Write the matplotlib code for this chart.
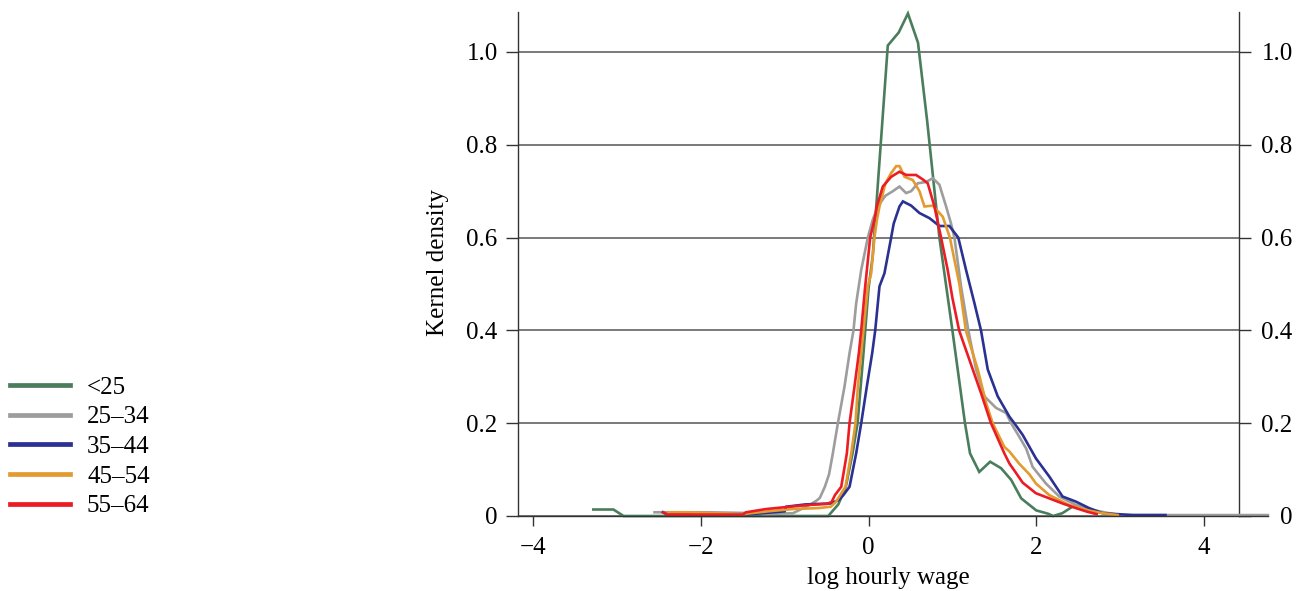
import matplotlib
matplotlib.use("Agg")
import matplotlib.pyplot as plt
from matplotlib.lines import Line2D

plt.rcParams['font.family'] = ['Liberation Serif', 'DejaVu Serif']
plt.rcParams['axes.unicode_minus'] = True

# ---------------- data ----------------
labels = ["<25", "25\u201334", "35\u201344", "45\u201354", "55\u201364"]
colors = ["#4a7d5c", "#9d9d9d", "#2b3192", "#e39b2f", "#ec1c24"]

x_lt25 = [-3.28, -3.04, -2.92, -0.48, -0.36, -0.27, -0.19, -0.13, -0.06, 0.00, 0.05,
          0.23, 0.36, 0.47, 0.59, 0.70, 0.845, 1.00, 1.15, 1.21, 1.32, 1.45, 1.58,
          1.70, 1.82, 2.00, 2.14, 2.20, 2.31, 2.43, 2.50]
y_lt25 = [0.014, 0.014, 0.0, 0.0, 0.025, 0.063, 0.135, 0.20, 0.351, 0.49, 0.56,
          1.014, 1.042, 1.083, 1.02, 0.85, 0.60, 0.40, 0.20, 0.135, 0.095, 0.117, 0.103,
          0.078, 0.038, 0.012, 0.005, 0.0, 0.006, 0.02, 0.02]

x_25_34 = [-2.55, -2.40, -1.90, -1.30, -1.25, -0.90, -0.80, -0.70, -0.62, -0.58, -0.52,
           -0.47, -0.425, -0.365, -0.286, -0.226, -0.179, -0.147, -0.087, -0.008, 0.05,
           0.111, 0.20, 0.29, 0.369, 0.448, 0.508, 0.587, 0.687, 0.766, 0.845, 0.925,
           0.984, 1.024, 1.103, 1.19, 1.282, 1.381, 1.52, 1.64, 1.70, 1.80, 1.88, 1.956,
           2.115, 2.274, 2.472, 2.67, 2.87, 2.99, 4.76]
y_25_34 = [0.008, 0.008, 0.008, 0.006, 0.004, 0.006, 0.015, 0.024, 0.033, 0.039, 0.063,
           0.09, 0.135, 0.20, 0.279, 0.351, 0.40, 0.458, 0.530, 0.60, 0.638,
           0.667, 0.69, 0.70, 0.710, 0.696, 0.70, 0.717, 0.720, 0.728, 0.714, 0.667,
           0.630, 0.60, 0.495, 0.40, 0.316, 0.258, 0.233, 0.222, 0.20, 0.17, 0.145, 0.106,
           0.070, 0.042, 0.024, 0.013, 0.006, 0.002, 0.002]

x_35_44 = [-2.45, -2.40, -1.40, -1.00, -0.98, -0.75, -0.45, -0.35, -0.30, -0.226, -0.147,
           -0.087, -0.02, 0.044, 0.08, 0.131, 0.19, 0.27, 0.30, 0.369, 0.41, 0.508, 0.607,
           0.726, 0.845, 0.964, 1.07, 1.163, 1.262, 1.341, 1.421, 1.54, 1.68, 1.738, 1.837,
           1.996, 2.155, 2.313, 2.472, 2.63, 2.79, 3.15, 3.54]
y_35_44 = [0.008, 0.003, 0.004, 0.010, 0.020, 0.025, 0.027, 0.035, 0.045, 0.063, 0.135,
           0.20, 0.279, 0.351, 0.40, 0.495, 0.523, 0.60, 0.63, 0.667, 0.678, 0.669, 0.653,
           0.642, 0.625, 0.625, 0.60, 0.53, 0.459, 0.40, 0.316, 0.258, 0.214, 0.20, 0.175,
           0.124, 0.085, 0.042, 0.031, 0.017, 0.006, 0.002, 0.002]

x_45_54 = [-2.38, -2.20, -1.50, -1.20, -0.90, -0.60, -0.45, -0.39, -0.274, -0.206, -0.155,
           -0.127, -0.087, -0.06, -0.008, 0.032, 0.071, 0.10, 0.131, 0.202, 0.27, 0.33,
           0.37, 0.43, 0.528, 0.607, 0.667, 0.766, 0.885, 0.97, 1.083, 1.16, 1.302, 1.401,
           1.48, 1.619, 1.68, 1.80, 1.917, 1.996, 2.155, 2.39, 2.59, 2.79, 2.97]
y_45_54 = [0.008, 0.008, 0.004, 0.010, 0.015, 0.017, 0.020, 0.030, 0.063, 0.135, 0.20,
           0.279, 0.351, 0.40, 0.495, 0.523, 0.60, 0.638, 0.667, 0.717, 0.739, 0.754,
           0.754, 0.731, 0.724, 0.70, 0.667, 0.669, 0.645, 0.60, 0.50, 0.40, 0.316, 0.244,
           0.20, 0.149, 0.139, 0.112, 0.090, 0.070, 0.045, 0.024, 0.013, 0.006, 0.002]

x_55_64 = [-2.45, -2.40, -1.50, -1.46, -1.22, -0.94, -0.70, -0.50, -0.44, -0.40, -0.325,
           -0.258, -0.226, -0.167, -0.115, -0.087, -0.042, 0.02, 0.07, 0.10, 0.17, 0.27,
           0.369, 0.45, 0.567, 0.65, 0.706, 0.786, 0.865, 0.944, 1.00, 1.08, 1.202, 1.341,
           1.46, 1.619, 1.68, 1.75, 1.837, 1.996, 2.155, 2.313, 2.472, 2.61, 2.72]
y_55_64 = [0.008, 0.003, 0.003, 0.008, 0.015, 0.020, 0.024, 0.026, 0.030, 0.045, 0.063,
           0.135, 0.20, 0.279, 0.351, 0.40, 0.49, 0.60, 0.638, 0.667, 0.710, 0.731,
           0.742, 0.735, 0.735, 0.725, 0.717, 0.667, 0.60, 0.53, 0.47, 0.40, 0.337, 0.265,
           0.20, 0.135, 0.113, 0.095, 0.072, 0.049, 0.038, 0.027, 0.017, 0.009, 0.004]

series_x = [x_lt25, x_25_34, x_35_44, x_45_54, x_55_64]
series_y = [y_lt25, y_25_34, y_35_44, y_45_54, y_55_64]

y_ticks = [0, 0.2, 0.4, 0.6, 0.8, 1.0]
y_ticklabels = ["0", "0.2", "0.4", "0.6", "0.8", "1.0"]
x_ticks = [-4, -2, 0, 2, 4]

# ---------------- layout ----------------
W, H = 1298, 591
fig = plt.figure(figsize=(W / 100, H / 100), dpi=100)
FS = 18

px0 = 868.5      # pixel of x = 0
ppu = 83.9       # pixels per unit
def v(px):
    return (px - px0) / ppu

left_px, right_grid_px, right_data_px = 518, 1239, 1268
top_px, bot_px = 12, 516
ytop = (bot_px - top_px) / 464.0

L = left_px / W
B = (H - bot_px) / H
HH = (bot_px - top_px) / H

# grid / y-axis frame
ax_g = fig.add_axes([L, B, (right_grid_px - left_px) / W, HH])
ax_g.set_xlim(v(left_px), v(right_grid_px))
ax_g.set_ylim(0, ytop)
for s in ["top", "bottom", "right"]:
    ax_g.spines[s].set_visible(False)
ax_g.spines["left"].set_color("#333333")
ax_g.spines["left"].set_linewidth(1.0)
ax_g.set_xticks([])
ax_g.set_yticks(y_ticks)
ax_g.set_yticklabels(y_ticklabels)
ax_g.tick_params(axis="y", direction="out", length=8.6, width=1.0, color="#333333",
                 labelsize=FS, pad=6.0)
ax_g.yaxis.grid(True, color="#555555", linewidth=1.1)
ax_g.set_axisbelow(True)
ax_g.set_ylabel("Kernel density", fontsize=FS)
ax_g.yaxis.set_label_coords((438 - left_px) / (right_grid_px - left_px),
                            (bot_px - 262) / (bot_px - top_px))
ax_g.yaxis.label.set_va("center")

# right axis
ax_r = ax_g.twinx()
ax_r.set_ylim(0, ytop)
for s in ["top", "bottom", "left"]:
    ax_r.spines[s].set_visible(False)
ax_r.spines["right"].set_color("#333333")
ax_r.spines["right"].set_linewidth(1.0)
ax_r.set_yticks(y_ticks)
ax_r.set_yticklabels(y_ticklabels)
ax_r.tick_params(axis="y", direction="out", length=8.6, width=1.0, color="#333333",
                 labelsize=FS, pad=30.0)
for t in ax_r.get_yticklabels():
    t.set_horizontalalignment("right")

# data axes
ax = fig.add_axes([L, B, (right_data_px - left_px) / W, HH])
ax.patch.set_visible(False)
ax.set_xlim(v(left_px), v(right_data_px))
ax.set_ylim(0, ytop)
for s in ["top", "left", "right"]:
    ax.spines[s].set_visible(False)
ax.spines["bottom"].set_color("#333333")
ax.spines["bottom"].set_linewidth(1.0)
ax.set_yticks([])
ax.set_xticks(x_ticks)
ax.tick_params(axis="x", direction="out", length=7.2, width=1.0, color="#333333",
               labelsize=FS, pad=8.0)
ax.set_xlabel("log hourly wage", fontsize=FS)
ax.xaxis.set_label_coords((888 - left_px) / (right_data_px - left_px),
                          (bot_px - 578) / (bot_px - top_px))
ax.xaxis.label.set_va("center")

for xs, ys, c in zip(series_x, series_y, colors):
    ax.plot(xs, ys, color=c, linewidth=1.9, clip_on=False, solid_joinstyle="miter")

handles = [Line2D([0], [0], color=c, linewidth=3.4) for c in colors]
fig.legend(handles, labels, loc="upper left",
           bbox_to_anchor=(10 / W, (H - 376) / H), frameon=False, fontsize=FS,
           handlelength=2.4, handletextpad=0.68, labelspacing=0.29,
           borderpad=0, borderaxespad=0)

fig.savefig("out.png", dpi=100)
